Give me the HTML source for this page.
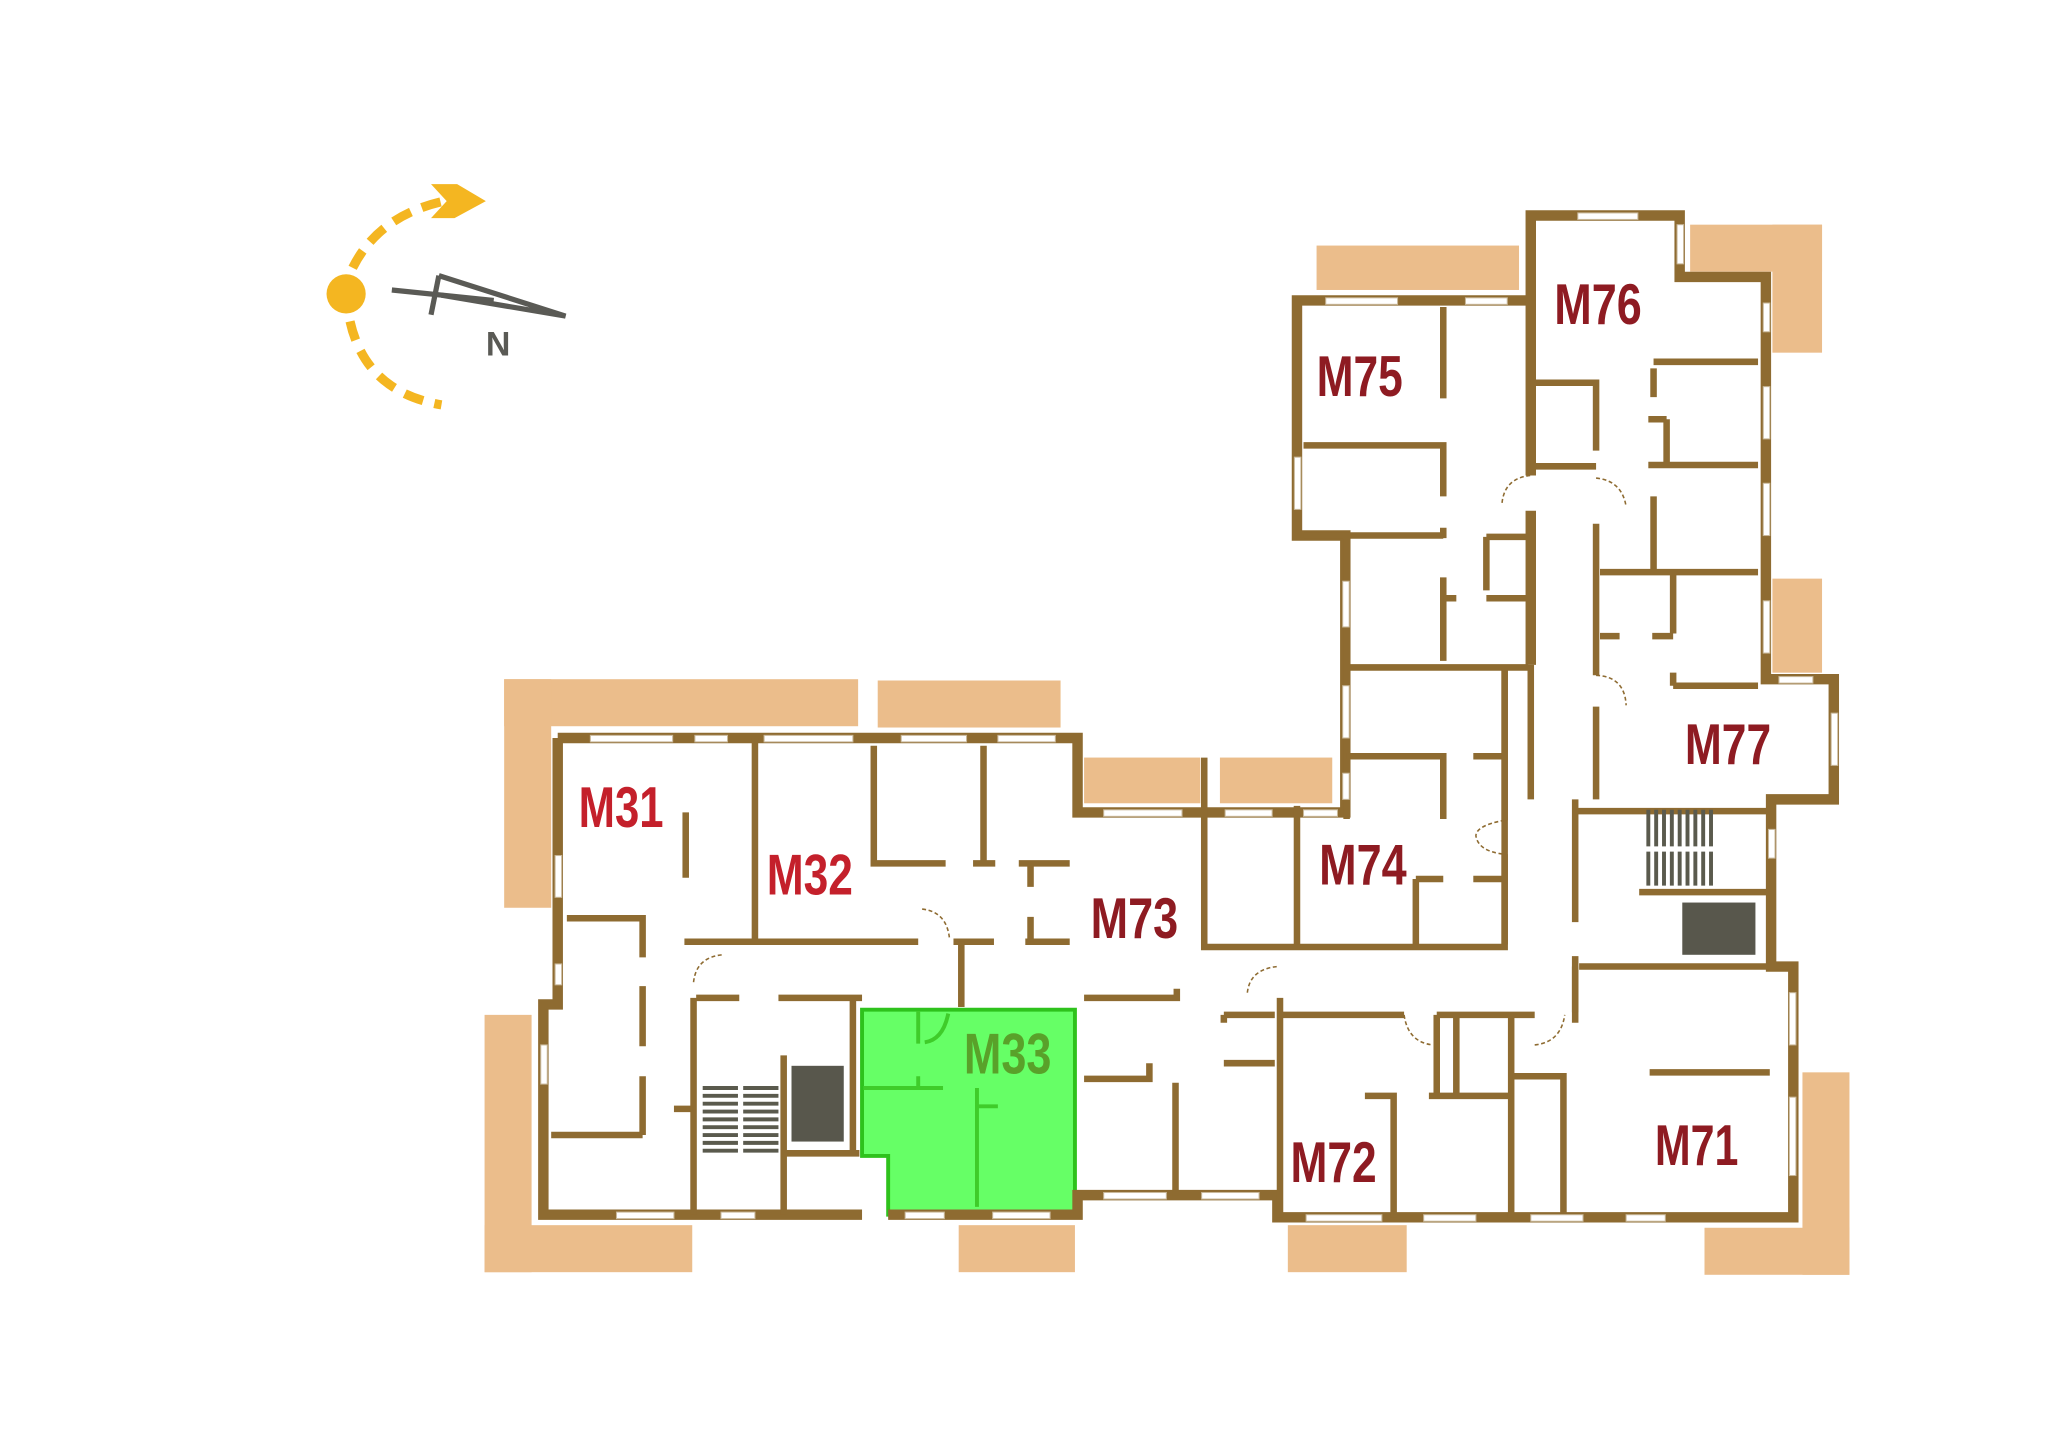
<!DOCTYPE html>
<html><head><meta charset="utf-8"><style>
html,body{margin:0;padding:0;background:#fff;width:2048px;height:1448px;overflow:hidden}
svg{display:block}
.t{font-family:"Liberation Sans Narrow","Liberation Sans",sans-serif;font-weight:bold;font-size:44px}
</style></head><body>
<svg width="2048" height="1448" viewBox="0 0 1568 1108.6" xmlns="http://www.w3.org/2000/svg">
<!-- compass -->
<g fill="none" stroke="#f4b621" stroke-width="7" stroke-dasharray="15 9">
<path d="M270 205 Q290 165 340 154"/>
<path d="M268 246 Q280 300 338 310"/>
</g>
<circle cx="265" cy="225" r="15" fill="#f4b621"/>
<path d="M330 141 L350 141 L372 154 L348 167 L330 167 L342 154 Z" fill="#f4b621"/>
<g stroke="#5a5a55" stroke-width="4" fill="none" stroke-linejoin="miter">
<line x1="300" y1="222" x2="378" y2="230"/>
<path d="M336 211 L330 241"/>
<path d="M336 211 L433 242 L338 226"/>
</g>
<text x="372" y="272" font-family="Liberation Sans,sans-serif" font-weight="bold" font-size="26" fill="#5a5a55">N</text>

<!-- balconies -->
<g fill="#ebbd8b">
<rect x="386" y="520" width="271" height="36"/><rect x="386" y="520" width="36" height="175"/>
<rect x="672" y="521" width="140" height="36"/>
<rect x="830" y="580" width="89" height="35"/><rect x="934" y="580" width="86" height="35"/>
<rect x="1008" y="188" width="155" height="34"/>
<rect x="1294" y="172" width="101" height="36"/><rect x="1357" y="172" width="38" height="98"/>
<rect x="1357" y="443" width="38" height="72"/>
<rect x="371" y="777" width="36" height="197"/><rect x="371" y="938" width="159" height="36"/>
<rect x="734" y="938" width="89" height="36"/>
<rect x="986" y="938" width="91" height="36"/>
<rect x="1380" y="821" width="36" height="155"/><rect x="1305" y="940" width="111" height="36"/>
</g>

<!-- green M33 -->
<path d="M660 773 H823 V930 H680 V885 H660 Z" fill="#66ff66" stroke="#2ec21c" stroke-width="3"/>
<g stroke="#3fcc2a" stroke-width="3" fill="none">
<path d="M703 774 V799 M661 833 H722 M703 824 V833 M748 833 V924 M748 847 H764"/>
<path d="M708 798 Q722 796 726 776"/>
</g>

<!-- outer walls -->
<g stroke="#8e6b31" stroke-width="8" fill="none" stroke-linejoin="miter">
<path d="M427 565 H825 V622 H1030 V410 H993 V230 H1172 V165 H1286 V212 H1352 V520 H1404 V612 H1356 V740 H1373 V932 H978 V915 H825 V930 H680"/>
<path d="M660 930 H416 V769 H427 V565"/>
<path d="M1172 230 V364 M1172 391 V509"/>
</g>
<!-- inner walls -->
<g stroke="#8e6b31" stroke-width="5" fill="none">
<path d="M578 565 V721 M524 721 H703 M730 721 H761 M785 721 H819"/>
<path d="M525 622 V672"/>
<path d="M434 703 H492 V733 M492 755 V801 M492 824 V869 M422 869 H492"/>
<path d="M531 764 V930 M533 764 H566 M596 764 H660 M653 764 V883 M600 808 V930 M600 883 H658"/>
<path d="M736 721 V771 M516 849 H530"/>
<path d="M669 571 V661 H724 M753 571 V661 M745 661 H762 M789 661 V679 M789 702 V721 M780 661 H819"/>
<path d="M922 580 V725 H1152 V511 H1031 M1152 511 H1170"/>
<path d="M1105 235 V305 M998 341 H1105 V380 M1105 404 V412 M998 410 H1105 M1105 442 V506 M1031 410 V627"/>
<path d="M1138 411 H1170 M1138 411 V452 M1138 458 H1170 M1105 458 H1115"/>
<path d="M1031 579 H1105 V627 M1128 579 H1150 M993 617 V723 M1084 673 H1105 M1084 673 V723 M1128 673 H1150"/>
<path d="M1152 511 V628 M1152 654 V723"/>
<path d="M1172 293 H1222 V345 M1172 357 H1222 M1222 401 V517 M1222 541 V612"/>
<path d="M1266 277 H1346 M1266 282 V304 M1262 356 H1346 M1276 321 V356 M1262 321 H1276 M1266 380 V436 M1225 438 H1346 M1281 440 V485 M1225 487 H1240 M1265 487 H1281 M1281 525 H1346 M1281 515 V525"/>
<path d="M1206 612 V706 M1206 732 V783 M1209 740 H1373 M1357 617 V743 M1206 621 H1357 M1255 683 H1357"/>
<path d="M830 764 H901 V757 M830 826 H880 V814 M900 829 V915 M937 777 H976 M937 777 V783 M937 814 H976"/>
<path d="M980 764 V932 M980 777 H1075 M1100 777 H1175 M1100 777 V839 M1115 777 V839 M1094 839 H1157 M1157 777 V932 M1045 839 H1067 V932"/>
<path d="M1158 824 H1187 M1183 824 H1197 V932 M1263 821 H1355 M1206 740 V775 M1172 509 V612"/>
</g>
<!-- door arcs -->
<g stroke="#8e6b31" stroke-width="1.2" fill="none" stroke-dasharray="3 2">
<path d="M706 696 Q725 698 727 719"/><path d="M531 752 Q533 733 553 731"/>
<path d="M1150 385 Q1152 366 1172 364"/><path d="M1222 366 Q1242 368 1245 388"/>
<path d="M1222 517 Q1244 518 1245 540"/><path d="M1152 628 Q1130 632 1130 640 Q1132 652 1152 654"/>
<path d="M955 760 Q957 742 978 740"/><path d="M1075 777 Q1078 798 1097 800"/><path d="M1175 800 Q1195 798 1198 777"/>
</g>
<!-- windows -->
<g fill="#fff" stroke="#c9b89a" stroke-width="0.8">
<rect x="452" y="563" width="63" height="5"/><rect x="532" y="563" width="25" height="5"/><rect x="585" y="563" width="68" height="5"/><rect x="690" y="563" width="50" height="5"/><rect x="764" y="563" width="44" height="5"/>
<rect x="425" y="655" width="5" height="32"/><rect x="425" y="738" width="5" height="16"/><rect x="414" y="800" width="5" height="30"/>
<rect x="472" y="928" width="44" height="5"/><rect x="552" y="928" width="26" height="5"/><rect x="693" y="928" width="30" height="5"/><rect x="760" y="928" width="44" height="5"/>
<rect x="845" y="620" width="60" height="5"/><rect x="938" y="620" width="36" height="5"/><rect x="998" y="620" width="26" height="5"/>
<rect x="845" y="913" width="48" height="5"/><rect x="920" y="913" width="44" height="5"/>
<rect x="1000" y="930" width="58" height="5"/><rect x="1090" y="930" width="40" height="5"/><rect x="1172" y="930" width="40" height="5"/><rect x="1245" y="930" width="30" height="5"/>
<rect x="1370" y="760" width="5" height="40"/><rect x="1370" y="840" width="5" height="60"/>
<rect x="1028" y="445" width="5" height="35"/><rect x="1028" y="525" width="5" height="40"/><rect x="1028" y="592" width="5" height="20"/>
<rect x="991" y="350" width="5" height="40"/><rect x="1015" y="228" width="55" height="5"/><rect x="1122" y="228" width="32" height="5"/>
<rect x="1208" y="163" width="46" height="5"/><rect x="1284" y="172" width="5" height="30"/>
<rect x="1350" y="232" width="5" height="22"/><rect x="1350" y="296" width="5" height="40"/><rect x="1350" y="370" width="5" height="40"/><rect x="1350" y="460" width="5" height="40"/>
<rect x="1362" y="518" width="26" height="5"/><rect x="1402" y="546" width="5" height="40"/><rect x="1354" y="635" width="5" height="22"/>
</g>
<!-- stairs & elevators -->
<g stroke="#5a5a4d" stroke-width="3">
<path d="M538 833 H565 M538 839 H565 M538 845 H565 M538 851 H565 M538 857 H565 M538 863 H565 M538 869 H565 M538 875 H565 M538 881 H565"/>
<path d="M569 833 H596 M569 839 H596 M569 845 H596 M569 851 H596 M569 857 H596 M569 863 H596 M569 869 H596 M569 875 H596 M569 881 H596"/>
<path d="M1262 620 V648 M1268 620 V648 M1274 620 V648 M1280 620 V648 M1286 620 V648 M1292 620 V648 M1298 620 V648 M1304 620 V648 M1310 620 V648"/>
<path d="M1262 652 V678 M1268 652 V678 M1274 652 V678 M1280 652 V678 M1286 652 V678 M1292 652 V678 M1298 652 V678 M1304 652 V678 M1310 652 V678"/>
</g>
<rect x="606" y="816" width="40" height="58" fill="#58574c"/>
<rect x="1288" y="691" width="56" height="40" fill="#58574c"/>

<!-- labels -->
<text class="t" x="443" y="633" fill="#c4202b" textLength="65" lengthAdjust="spacingAndGlyphs">M31</text>
<text class="t" x="587" y="685" fill="#c4202b" textLength="66" lengthAdjust="spacingAndGlyphs">M32</text>
<text class="t" x="738" y="822" fill="#59a12a" textLength="67" lengthAdjust="spacingAndGlyphs">M33</text>
<text class="t" x="835" y="718" fill="#8e1b22" textLength="67" lengthAdjust="spacingAndGlyphs">M73</text>
<text class="t" x="1010" y="677" fill="#8e1b22" textLength="67" lengthAdjust="spacingAndGlyphs">M74</text>
<text class="t" x="1008" y="303" fill="#8e1b22" textLength="66" lengthAdjust="spacingAndGlyphs">M75</text>
<text class="t" x="1190" y="248" fill="#8e1b22" textLength="67" lengthAdjust="spacingAndGlyphs">M76</text>
<text class="t" x="1290" y="585" fill="#8e1b22" textLength="66" lengthAdjust="spacingAndGlyphs">M77</text>
<text class="t" x="988" y="905" fill="#8e1b22" textLength="66" lengthAdjust="spacingAndGlyphs">M72</text>
<text class="t" x="1267" y="892" fill="#8e1b22" textLength="64" lengthAdjust="spacingAndGlyphs">M71</text>
</svg>
</body></html>
